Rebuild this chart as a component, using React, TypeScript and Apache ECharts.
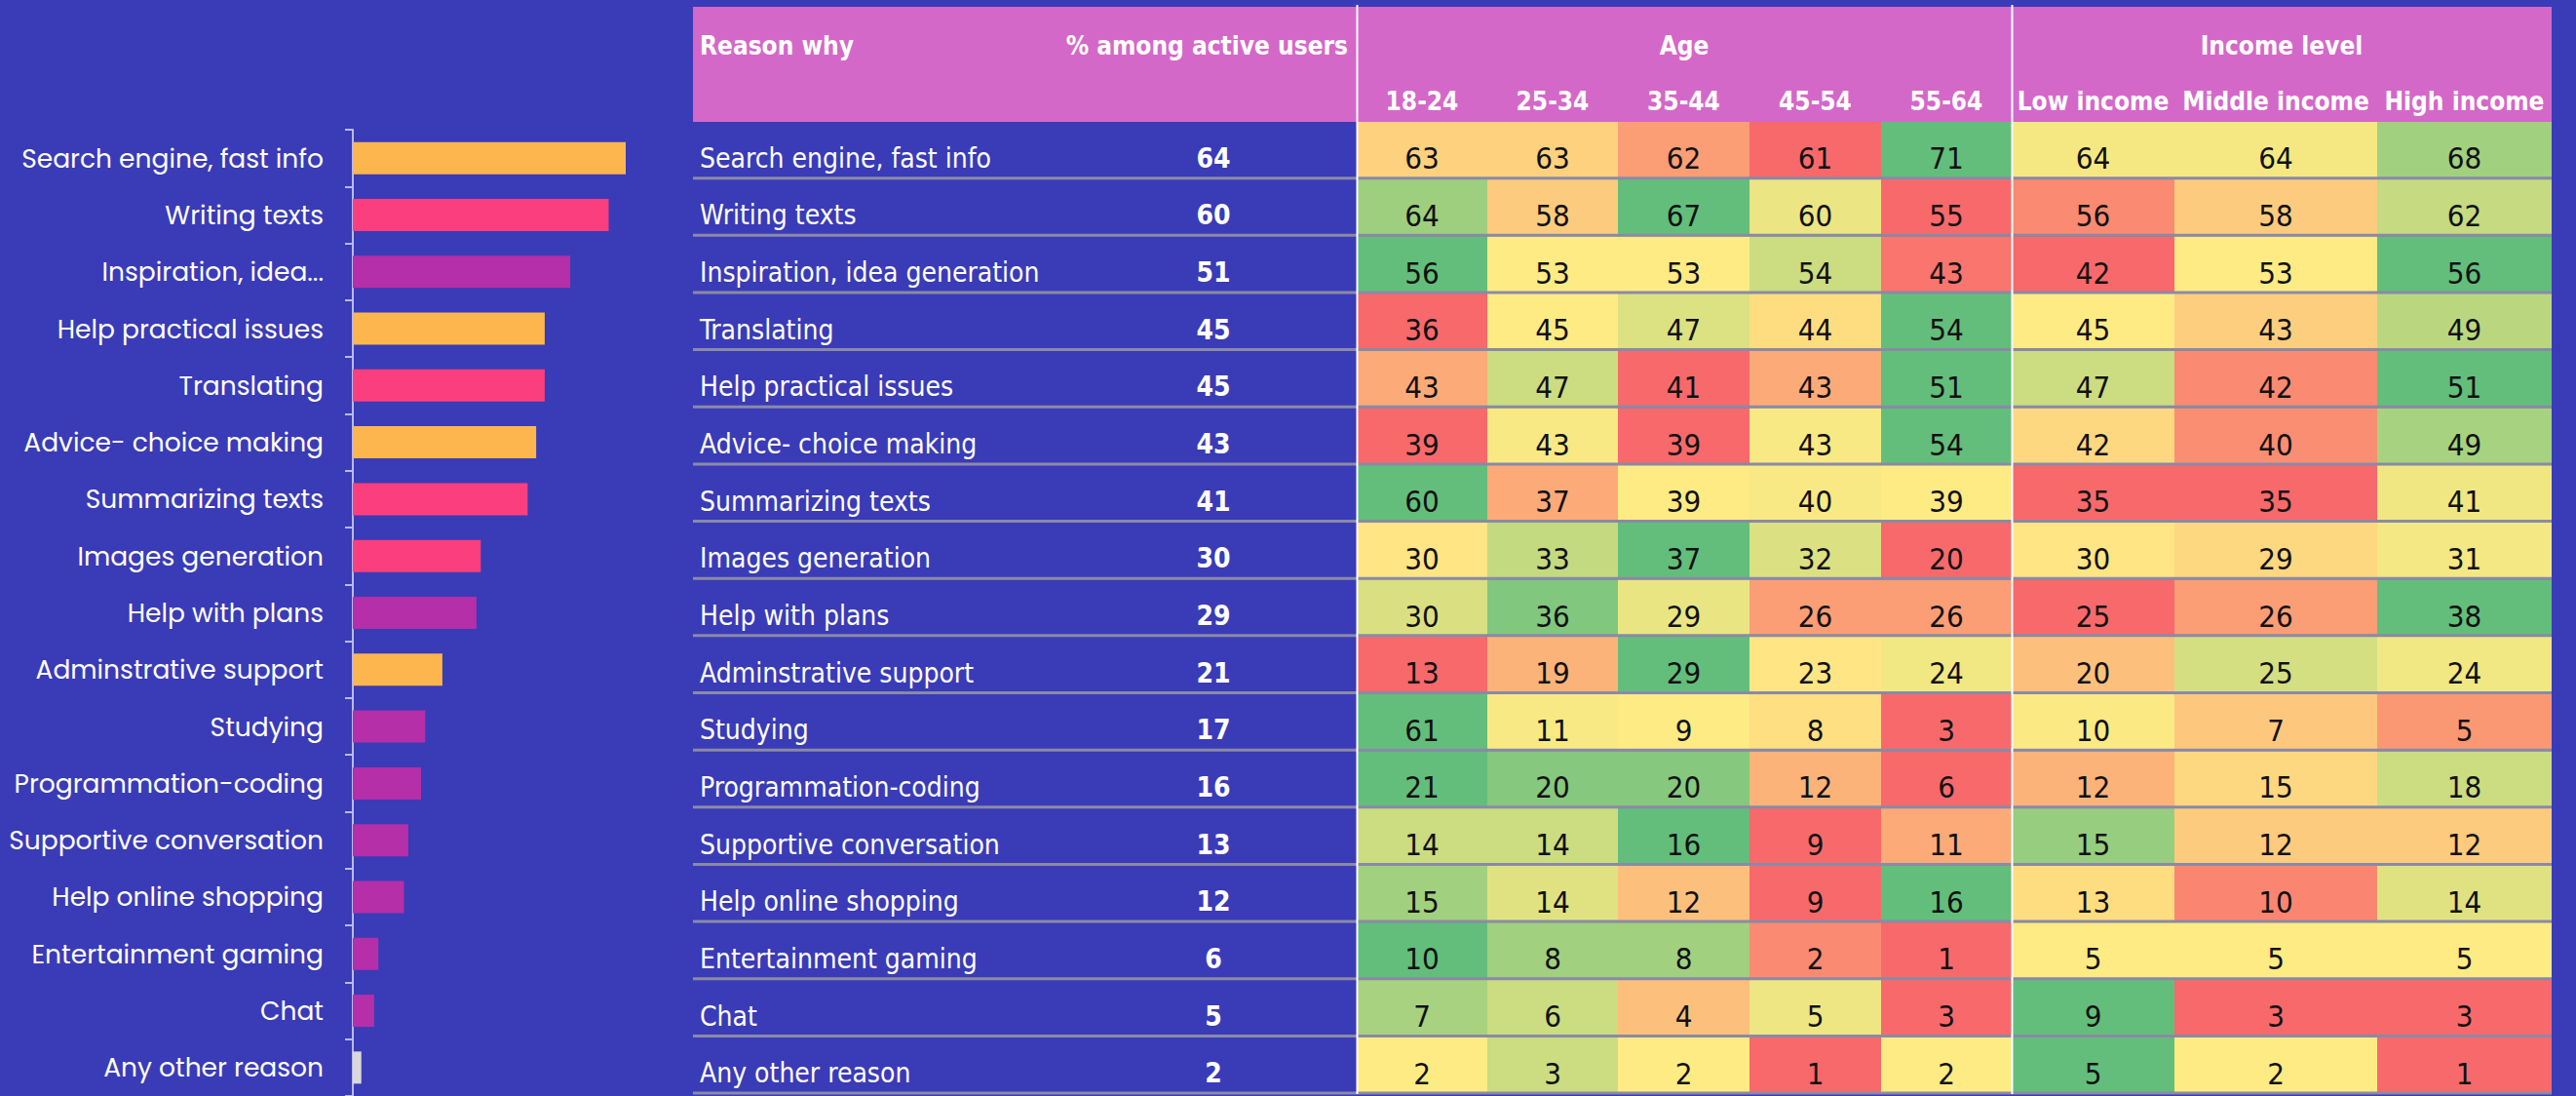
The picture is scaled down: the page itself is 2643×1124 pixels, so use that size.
import React, { useEffect, useRef } from 'react';
import * as echarts from 'echarts';

// ---------------- DATA ----------------
const BAR_REASONS = [
  'Search engine, fast info', 'Writing texts', 'Inspiration, idea generation', 'Help practical issues',
  'Translating', 'Advice- choice making', 'Summarizing texts', 'Images generation', 'Help with plans',
  'Adminstrative support', 'Studying', 'Programmation-coding', 'Supportive conversation',
  'Help online shopping', 'Entertainment gaming', 'Chat', 'Any other reason',
];
const BAR_VALUES = [64, 60, 51, 45, 45, 43, 41, 30, 29, 21, 17, 16, 13, 12, 6, 5, 2];
const BAR_GROUPS = [
  'info', 'create', 'assist', 'info', 'create', 'info', 'create', 'create', 'assist',
  'info', 'assist', 'assist', 'assist', 'assist', 'assist', 'assist', 'other',
];

const TABLE_REASONS = [
  'Search engine, fast info', 'Writing texts', 'Inspiration, idea generation', 'Translating',
  'Help practical issues', 'Advice- choice making', 'Summarizing texts', 'Images generation',
  'Help with plans', 'Adminstrative support', 'Studying', 'Programmation-coding',
  'Supportive conversation', 'Help online shopping', 'Entertainment gaming', 'Chat', 'Any other reason',
];
const SHARE_ACTIVE = [64, 60, 51, 45, 45, 43, 41, 30, 29, 21, 17, 16, 13, 12, 6, 5, 2];
const AGE_GROUPS = ['18-24', '25-34', '35-44', '45-54', '55-64'];
const INCOME_GROUPS = ['Low income', 'Middle income', 'High income'];
const BY_AGE = [
  [63, 63, 62, 61, 71],
  [64, 58, 67, 60, 55],
  [56, 53, 53, 54, 43],
  [36, 45, 47, 44, 54],
  [43, 47, 41, 43, 51],
  [39, 43, 39, 43, 54],
  [60, 37, 39, 40, 39],
  [30, 33, 37, 32, 20],
  [30, 36, 29, 26, 26],
  [13, 19, 29, 23, 24],
  [61, 11, 9, 8, 3],
  [21, 20, 20, 12, 6],
  [14, 14, 16, 9, 11],
  [15, 14, 12, 9, 16],
  [10, 8, 8, 2, 1],
  [7, 6, 4, 5, 3],
  [2, 3, 2, 1, 2],
];
const BY_INCOME = [
  [64, 64, 68],
  [56, 58, 62],
  [42, 53, 56],
  [45, 43, 49],
  [47, 42, 51],
  [42, 40, 49],
  [35, 35, 41],
  [30, 29, 31],
  [25, 26, 38],
  [20, 25, 24],
  [10, 7, 5],
  [12, 15, 18],
  [15, 12, 12],
  [13, 10, 14],
  [5, 5, 5],
  [9, 3, 3],
  [5, 2, 1],
];

// ---------------- LAYOUT / STYLE ----------------
const W = 2643;
const H = 1124;
const BG = '#3A3BB7';
const HEADER_BG = '#D468C8';
const SEP = '#8A8AA6';
const GROUP_COLORS: Record<string, string> = {
  info: '#FDB64E',
  create: '#FB3F7E',
  assist: '#B42FA8',
  other: '#D9D9D9',
};
const SCALE_COLORS = ['#F8696B', '#FFEB84', '#63BE7B'];
const LEFT_FONT = 'Poppins, "Open Sans", "Noto Sans", sans-serif';
const TABLE_FONT = '"DejaVu Sans Condensed", "Liberation Sans Narrow", sans-serif';
const NUM_FONT = '"Liberation Sans Narrow", "DejaVu Sans Condensed", sans-serif';

const TABLE_LEFT = 711;
const TABLE_TOP = 125;
const HEADER_TOP = 7;
const ROW_H = 58.65;
const TABLE_W = 1907;
// column edges relative to TABLE_LEFT: [reason/% area end, age cols..., income cols...]
const CELL_EDGES = [681, 815, 949, 1084, 1219, 1353, 1520, 1728, 1907];
const SHARE_X = 534;
const LABEL_X = 7;
const TEXT_DROP = 8; // cell texts sit low (bottom aligned)

// ---------------- DERIVED ----------------
function rowScale(vals: number[]) {
  const s = [...vals].sort((a, b) => a - b);
  const min = s[0];
  const max = s[s.length - 1];
  const pos = (s.length - 1) * 0.5;
  const lo = Math.floor(pos);
  const hi = Math.ceil(pos);
  const mid = s[lo] + (s[hi] - s[lo]) * (pos - lo);
  return (v: number) => {
    if (v <= mid) return mid === min ? 0.5 : (0.5 * (v - min)) / (mid - min);
    return max === mid ? 0.5 : 0.5 + (0.5 * (v - mid)) / (max - mid);
  };
}

const heatData: number[][] = [];
TABLE_REASONS.forEach((_, r) => {
  const vals = [...BY_AGE[r], ...BY_INCOME[r]];
  const f = rowScale(vals);
  vals.forEach((v, c) => heatData.push([c, r, v, f(v)]));
});
const rowData = TABLE_REASONS.map((name, r) => [r, SHARE_ACTIVE[r]]);

function headerText(text: string, x: number, y: number, align: string) {
  return {
    type: 'text',
    style: {
      text, x, y, fill: '#fff',
      fontSize: 26, fontWeight: 'bold', fontFamily: TABLE_FONT,
      align, verticalAlign: 'middle', textAlign: align, textVerticalAlign: 'middle',
    },
    z: 5,
  };
}

function buildOption(): any {
  const headerCols = [...AGE_GROUPS, ...INCOME_GROUPS];
  const graphics: any[] = [
    {
      type: 'rect',
      shape: { x: TABLE_LEFT, y: HEADER_TOP, width: TABLE_W, height: TABLE_TOP - HEADER_TOP },
      style: { fill: HEADER_BG },
      z: 0,
    },
    headerText('Reason why', TABLE_LEFT + LABEL_X, 47, 'left'),
    headerText('% among active users', TABLE_LEFT + CELL_EDGES[0] - 9, 47, 'right'),
    headerText('Age', TABLE_LEFT + (CELL_EDGES[0] + CELL_EDGES[5]) / 2, 47, 'center'),
    headerText('Income level', TABLE_LEFT + (CELL_EDGES[5] + CELL_EDGES[8]) / 2, 47, 'center'),
  ];
  headerCols.forEach((label, i) => {
    graphics.push(headerText(label, TABLE_LEFT + (CELL_EDGES[i] + CELL_EDGES[i + 1]) / 2, 104, 'center'));
  });
  [0, 5].forEach((ei) => {
    const x = TABLE_LEFT + CELL_EDGES[ei] + 0.5;
    graphics.push({
      type: 'line',
      shape: { x1: x, y1: 5, x2: x, y2: TABLE_TOP + ROW_H * TABLE_REASONS.length },
      style: { stroke: '#FFFFFF', lineWidth: 2 },
      z: 20,
    });
  });

  return {
    backgroundColor: BG,
    animation: false,
    graphic: graphics,
    visualMap: {
      type: 'continuous',
      show: false,
      dimension: 3,
      min: 0,
      max: 1,
      seriesIndex: 1,
      inRange: { color: SCALE_COLORS },
    },
    grid: [
      { left: 362, top: 133, width: 437.5, height: 999, containLabel: false },
      { left: TABLE_LEFT, top: TABLE_TOP, width: TABLE_W, height: ROW_H * TABLE_REASONS.length, containLabel: false },
    ],
    xAxis: [
      { gridIndex: 0, type: 'value', min: 0, max: 100, show: false },
      { gridIndex: 1, type: 'value', min: 0, max: TABLE_W, show: false },
    ],
    yAxis: [
      {
        gridIndex: 0,
        type: 'category',
        inverse: true,
        data: BAR_REASONS,
        axisLine: { show: true, lineStyle: { color: '#B9B9EE', width: 2 } },
        axisTick: { show: true, length: 8, lineStyle: { color: '#B9B9EE', width: 2 } },
        axisLabel: {
          color: '#FFFFFF',
          fontSize: 26.5,
          fontFamily: LEFT_FONT,
          margin: 30,
          formatter: (v: string) => (v.length > 24 ? v.slice(0, 17) + '...' : v),
        },
        splitLine: { show: false },
      },
      {
        gridIndex: 1,
        type: 'category',
        inverse: true,
        data: TABLE_REASONS,
        show: false,
      },
    ],
    series: [
      {
        type: 'bar',
        xAxisIndex: 0,
        yAxisIndex: 0,
        barWidth: 33,
        data: BAR_VALUES.map((v, i) => ({ value: v, itemStyle: { color: GROUP_COLORS[BAR_GROUPS[i]] } })),
      },
      {
        type: 'custom',
        xAxisIndex: 1,
        yAxisIndex: 1,
        data: heatData,
        z: 2,
        renderItem: (params: any, api: any) => {
          const c = api.value(0);
          const r = api.value(1);
          const p0 = api.coord([CELL_EDGES[c], r]);
          const p1 = api.coord([CELL_EDGES[c + 1], r]);
          const bh = api.size([0, 1])[1];
          return {
            type: 'group',
            children: [
              {
                type: 'rect',
                shape: { x: p0[0], y: p0[1] - bh / 2, width: p1[0] - p0[0], height: bh },
                style: { fill: api.visual('color') },
              },
              {
                type: 'text',
                style: {
                  text: String(api.value(2)),
                  x: (p0[0] + p1[0]) / 2,
                  y: p0[1] + TEXT_DROP,
                  fill: '#111111',
                  fontSize: 31,
                  fontFamily: NUM_FONT,
                  align: 'center', verticalAlign: 'middle', textAlign: 'center', textVerticalAlign: 'middle',
                },
              },
            ],
          };
        },
      },
      {
        type: 'custom',
        xAxisIndex: 1,
        yAxisIndex: 1,
        data: rowData,
        z: 3,
        renderItem: (params: any, api: any) => {
          const r = api.value(0);
          const pl = api.coord([0, r]);
          const pr = api.coord([TABLE_W, r]);
          const ps = api.coord([SHARE_X, r]);
          const plab = api.coord([LABEL_X, r]);
          const bh = api.size([0, 1])[1];
          const yb = pl[1] + bh / 2 - 1;
          return {
            type: 'group',
            children: [
              {
                type: 'text',
                style: {
                  text: TABLE_REASONS[r], x: plab[0], y: pl[1] + TEXT_DROP, fill: '#FFFFFF',
                  fontSize: 28, fontFamily: TABLE_FONT,
                  align: 'left', verticalAlign: 'middle', textAlign: 'left', textVerticalAlign: 'middle',
                },
              },
              {
                type: 'text',
                style: {
                  text: String(api.value(1)), x: ps[0], y: pl[1] + TEXT_DROP, fill: '#FFFFFF',
                  fontSize: 28, fontWeight: 'bold', fontFamily: TABLE_FONT,
                  align: 'center', verticalAlign: 'middle', textAlign: 'center', textVerticalAlign: 'middle',
                },
              },
              {
                type: 'line',
                shape: { x1: pl[0], y1: yb, x2: pr[0], y2: yb },
                style: { stroke: SEP, lineWidth: 3 },
              },
            ],
          };
        },
      },
    ],
  };
}

export default function App() {
  const ref = useRef<HTMLDivElement>(null);
  useEffect(() => {
    if (!ref.current) return;
    const chart = echarts.init(ref.current, null, { renderer: 'svg' });
    chart.setOption(buildOption());
    return () => chart.dispose();
  }, []);
  return (
    <div
      ref={ref}
      style={{ position: 'fixed', left: 0, top: 0, width: W, height: H, background: BG }}
    />
  );
}
